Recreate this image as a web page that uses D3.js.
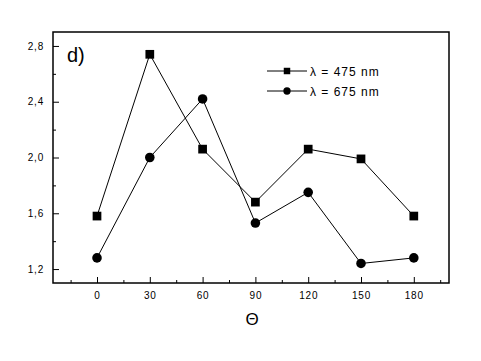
<!DOCTYPE html>
<html><head><meta charset="utf-8">
<script src="https://cdn.jsdelivr.net/npm/d3@7"></script>
<style>body{margin:0;background:#fff}svg{display:block}</style>
</head><body>
<svg id="c" width="481" height="361"></svg>
<script>
const angles = [0, 30, 60, 90, 120, 150, 180];
const series475 = [1.58, 2.74, 2.06, 1.68, 2.06, 1.99, 1.58];
const series675 = [1.28, 2.00, 2.42, 1.53, 1.75, 1.24, 1.28];
const xTicks = [0, 30, 60, 90, 120, 150, 180];
const yTicks = [1.2, 1.6, 2.0, 2.4, 2.8];
const legendLabels = ["λ = 475 nm", "λ = 675 nm"];

const svg = d3.select("#c");
const L = 53, R = 449, T = 32, B = 283;
const x = d3.scaleLinear().domain([-25, 200]).range([L, R]);
const y = d3.scaleLinear().domain([1.1, 2.9]).range([B, T]);
const fmt = d => d.toFixed(1).replace(".", ",");

const xMinor = d3.range(-15, 200, 15).filter(v => v % 30 !== 0);
const yMinor = [1.4, 1.8, 2.2, 2.6];

const gx = svg.append("g").attr("transform", `translate(0,${B})`)
  .call(d3.axisBottom(x).tickValues(xTicks).tickSize(-6).tickPadding(9).tickFormat(d3.format("d")));
gx.select(".domain").remove();
const gxm = svg.append("g").attr("transform", `translate(0,${B})`)
  .call(d3.axisBottom(x).tickValues(xMinor).tickSize(-3).tickFormat(""));
gxm.select(".domain").remove();

const gy = svg.append("g").attr("transform", `translate(${L},0)`)
  .call(d3.axisLeft(y).tickValues(yTicks).tickSize(-6).tickPadding(9).tickFormat(fmt));
gy.select(".domain").remove();
const gym = svg.append("g").attr("transform", `translate(${L},0)`)
  .call(d3.axisLeft(y).tickValues(yMinor).tickSize(-3).tickFormat(""));
gym.select(".domain").remove();

svg.selectAll(".tick text").attr("font-family", "Liberation Sans, Arial, sans-serif")
  .attr("font-size", 10).attr("fill", "#000").style("letter-spacing", "0.8px");
svg.selectAll(".tick line").attr("stroke", "#000");

svg.append("rect").attr("x", L).attr("y", T).attr("width", R - L).attr("height", B - T)
  .attr("fill", "none").attr("stroke", "#000").attr("stroke-width", 1.5);

const line = d3.line().x((d, i) => x(angles[i])).y(d => y(d));
[series475, series675].forEach(s => {
  svg.append("path").datum(s).attr("d", line).attr("fill", "none").attr("stroke", "#000").attr("stroke-width", 1);
});

const sq = d3.symbol().type(d3.symbolSquare).size(76);
const ci = d3.symbol().type(d3.symbolCircle).size(72);
svg.append("g").selectAll("path").data(series475).join("path")
  .attr("d", sq).attr("transform", (d, i) => `translate(${x(angles[i])},${y(d)})`).attr("fill", "#000");
svg.append("g").selectAll("path").data(series675).join("path")
  .attr("d", ci).attr("transform", (d, i) => `translate(${x(angles[i])},${y(d)})`).attr("fill", "#000");

const legY = [71, 91];
const legSyms = [d3.symbol().type(d3.symbolSquare).size(42), d3.symbol().type(d3.symbolCircle).size(42)];
legendLabels.forEach((lab, i) => {
  svg.append("line").attr("x1", 267).attr("x2", 307).attr("y1", legY[i]).attr("y2", legY[i]).attr("stroke", "#000");
  svg.append("path").attr("d", legSyms[i]).attr("transform", `translate(287,${legY[i]})`).attr("fill", "#000");
  svg.append("text").attr("x", 310).attr("y", legY[i] + 4.5).text(lab)
    .attr("font-family", "Liberation Sans, Arial, sans-serif").attr("font-size", 12).style("letter-spacing", "1px");
});

svg.append("text").attr("x", 67).attr("y", 62).text("d)")
  .attr("font-family", "Liberation Sans, Arial, sans-serif").attr("font-size", 20);

svg.append("text").attr("x", 252).attr("y", 325).attr("text-anchor", "middle").text("Θ")
  .attr("font-family", "Liberation Sans, Arial, sans-serif").attr("font-size", 17);
</script>
</body></html>
